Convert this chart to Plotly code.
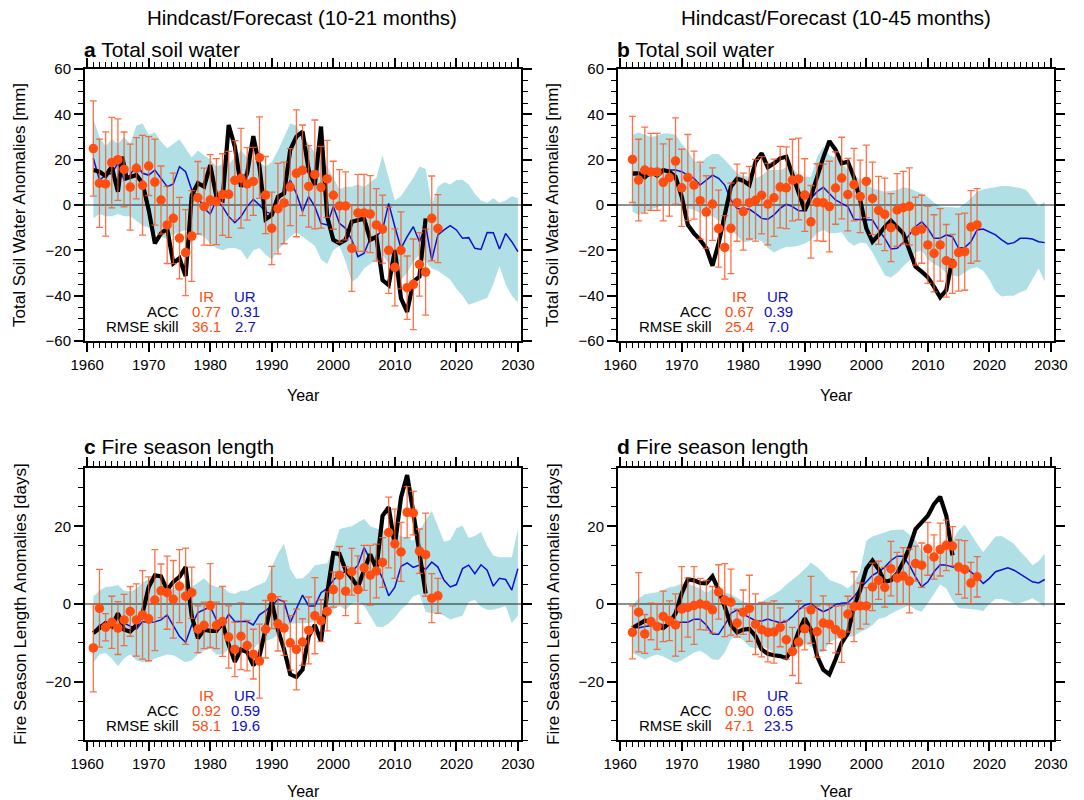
import plotly.graph_objects as go

# ---------------- DATA ----------------
# Panel a: Total soil water (10-21 months)
a_ir_years = list(range(1961, 2018))
a_ir = [24.9, 9.6, 9.3, 18.7, 20, 15.7, 7.9, 16.2, 8.7, 17.2,
        10.1, 2.2, -8.8, -5.9, -14.6, -21, -13.7, 3.2, -0.7, 2.2,
        1.5, 4.6, 4.7, 10.9, 11.8, 9.3, 10.4, 20.9, 4.4, -10.3,
        -1.6, 0.9, 7.9, 14, 15.3, 8.2, 13.5, 7.8, 11.5, 4.3,
        -0.4, -0.4, -19.1, -3.5, -3.5, -4, -8.8, -10.6, -20, -27.5,
        -20, -36.5, -35, -26.2, -29.6, -5.9, -10.4]
a_err = [21, 19.5, 23, 20, 18, 16.5, 19, 13.5, 22, 13,
         19, 15, 17, 20, 18, 19, 20, 16, 17, 20,
         19, 18, 19, 17.5, 22, 16, 15, 18, 17, 16,
         20, 18, 17, 28, 20, 18, 24, 18, 17, 15,
         16, 15, 19, 17, 17, 17, 16, 15, 19, 17,
         17, 14, 20, 14, 19, 18.7, 15]
a_obs_years = [1961, 1962, 1963, 1964, 1965, 1965.7, 1966.4, 1967, 1968, 1969,
               1970, 1971, 1972, 1973, 1974, 1975, 1976, 1977, 1978, 1979,
               1980, 1981, 1982, 1983, 1984, 1985, 1986, 1987, 1988, 1989,
               1990, 1991, 1992, 1993, 1994, 1995, 1996, 1997, 1998, 1999,
               2000, 2001, 2002, 2003, 2004, 2005, 2006, 2007, 2008, 2009,
               2010, 2011, 2012, 2013, 2014, 2015]
a_obs = [15.4, 14.7, 12.8, 16.9, 5.9, 21.3, 11.8, 12.5, 13.2, 9.6,
         -2.2, -16.9, -12.5, -10.3, -25.7, -23.5, -31.3, 4.4, 9.6, 8.1,
         17.6, 3.7, 2.2, 35.3, 25.7, 8.1, 14, 30.4, 16.9, -6.3,
         -4.4, 3.7, 5.1, 24.3, 30.1, 32.4, 15.4, 8.8, 34.6, -5.1,
         -15.4, -16.9, -15.4, -7.4, -6.6, -6, -15.4, -14, -33.1, -35.3,
         -19.9, -41.2, -47.1, -33.8, -31.6, -5.9]
a_ur_years = list(range(1961, 2031))
a_ur = [20.6, 11, 13.2, 14, 18.4, 11, 13.2, 18.1, 14, 13.2,
        15.4, 11.8, 8.1, 9.3, 16.9, 14.7, 6.6, 3.7, -1.5, -4,
        2.2, -0.7, -5.1, -7.8, -5.1, -0.7, 2.5, 0, -2.9, -4,
        2.2, 5.1, 11, 5.1, -2.9, 3.7, -0.7, -8.1, -8.8, -0.7,
        -8.1, -10.3, -15.4, -22.8, -21.3, -14.7, -13.7, -11, 0.7, -9.6,
        -19.1, -14, -9.6, -16.2, -9, -24.3, -13.2, -11, -9.1, -11,
        -14.7, -14.4, -19.1, -19.6, -12.1, -12.2, -19.4, -12.6, -16.2, -20.6]
a_hi = [38, 30, 26, 29, 27, 30, 27, 35, 36, 31,
        32, 28, 25, 27, 29, 25, 21, 24, 22, 20,
        17, 18, 18, 21, 24, 21, 20, 19, 17, 19,
        24, 30, 36, 35, 30, 27, 23, 20, 17, 12,
        7, 8, 8, 9, 8, 10, 12, 22, 12, 2,
        4, 8, 12, 17, 16, 0, 8, 10, 9, 11,
        11, 9, 5, 2, 1, 3, 1, 2, 4, 3]
a_lo = [-6, -4, -5, -5, -4, -5, -5, -7, -9, -10,
        -12, -14, -15, -13, -12, -11, -12, -13, -14, -17,
        -19, -20, -19, -19, -20, -24, -20, -19, -22, -24,
        -20, -17, -14, -12, -14, -16, -18, -24, -26, -20,
        -18, -25, -34, -32, -28, -26, -24, -22, -26, -31,
        -33, -30, -25, -22, -25, -28, -29, -31, -33, -37,
        -40, -44, -43, -42, -41, -35, -27, -35, -40, -43]

# Panel b: Total soil water (10-45 months)
b_ir_years = list(range(1962, 2019))
b_ir = [20.1, 11, 15.4, 14.6, 14.6, 10, 12.1, 19.4, 7.6, 12.1,
        8.8, 1.9, -3.1, 0.4, -10.4, -18.7, -10.3, 1, -2.9, 1,
        2.1, 4.3, 0.4, 3.2, 7.9, 7.6, 11, 11.5, 4.4, -7.4,
        1.2, 1, -0.7, 7.5, 11.9, 4.6, 9, 3.8, 10.4, 2.9,
        -2.4, -4.1, -10, -2.2, -1.2, -0.6, -11.5, -10.7, -17.6, -21.3,
        -17.6, -24.6, -26, -21, -20.6, -9.7, -8.8]
b_err = [19, 18, 19, 17, 17, 17, 17, 19, 17, 19,
         15, 17, 16, 16, 17, 14, 20, 17, 17, 16,
         18, 17, 18, 17, 18, 18, 18, 18, 16, 16,
         17, 17, 20, 16, 18, 16, 16, 16, 16, 16,
         15, 16, 15, 16, 16, 17, 15, 15, 17, 17,
         16, 16, 13, 17, 17, 16, 16]
b_obs_years = list(range(1962, 2015))
b_obs = [14, 14, 12.2, 14.7, 13, 15.4, 14.7, 12.5, 3.7, -8.8,
         -12.5, -15.4, -19.1, -26.8, -16.9, -5.1, 8.1, 11.6, 10.7, 8.8,
         19.1, 22.8, 16.6, 18.4, 20.6, 21.3, 13.2, 4.4, -2.5, 3.7,
         12.5, 20.9, 28.2, 24.3, 18.4, 19.1, 12.2, 2.2, -10.3, -16.2,
         -13.2, -9.6, -6.9, -9.6, -12.5, -19.9, -27.2, -29.4, -31.9, -36,
         -40.7, -37.5, -23.8]
b_ur_years = list(range(1962, 2030))
b_ur = [13.2, 13.2, 12.5, 13.2, 14, 14.7, 15.4, 15.4, 14.7, 13.2,
        11.8, 8.8, 11, 13.2, 11.8, 8.8, 2.2, -1.5, -1.6, -1.9,
        -3.7, -5.9, -6.3, -4.4, -1.5, 0.4, -0.7, -2.5, -2.5, 2.9,
        5.9, 7.8, 5.1, 2.2, 0.7, -0.7, -6.3, -6.3, -6.3, -6.6,
        -11, -14.7, -19.4, -19.1, -16.6, -13.2, -9.6, -7.4, -10.3, -14.7,
        -14.7, -13.2, -14, -19.1, -18.7, -16.2, -11, -10.6, -11.8, -13.2,
        -15.4, -17.2, -16.6, -14.7, -14.7, -15, -16.2, -16.6]
b_hi = [31, 32, 31, 30, 30.5, 31.5, 31.5, 31, 27, 24,
        19.5, 18, 21, 22.5, 22.5, 20, 17, 14, 12.8, 12.5,
        11.8, 13, 15.4, 15.4, 15.4, 16.5, 16.5, 13, 12.5, 12.5,
        21, 25.7, 22, 21, 18.4, 15.4, 13, 11.5, 9, 7.4,
        6.5, 5.9, 6.3, 6.6, 7.8, 7.4, 6.2, 5.1, 3.5, 1,
        -0.7, -0.7, -1, -1.2, 0.5, 3, 5.9, 7, 7.4, 7.8,
        8.4, 8.4, 8.1, 7.5, 6.6, 3, -0.7, 1.5]
b_lo = [-3, -4.4, -3, -2, -1, 0, 0.5, 0.5, -0.5, -1.5,
        -2.2, -3.5, -4.4, -5, -7, -8.5, -11, -13.5, -16.5, -16,
        -15, -16, -19, -21, -19.5, -18.4, -18.4, -18, -17, -15.5,
        -12.5, -11, -12.5, -12.5, -12, -16, -18, -16.5, -17, -21,
        -26, -31, -32, -30, -27, -24.5, -21, -20, -24, -26,
        -27.5, -30, -31, -31.6, -30, -28, -27.5, -29, -33, -38,
        -40.4, -40, -40, -38.5, -37.5, -33, -28, -33.8]

# Panel c: Fire season length (10-21 months)
c_ir_years = list(range(1961, 2018))
c_ir = [-11.3, -1.1, -6, -4.7, -6.2, -4.1, -1.9, -4.1, -2.8, -3.8,
        1, 3.4, 2.9, 1.2, 4.6, 2, 2.9, -6.5, -5.5, -0.4,
        -5.5, -4.5, -8.5, -11.7, -8.3, -10.7, -12.9, -14.7, -6.5, 1.7,
        -5.1, -6.2, -10, -11.7, -9.8, -6.8, -3, -4.3, -1.9, 3.7,
        7.4, 3.3, 8.3, 3.7, 9.3, 7.4, 8.5, 10.7, 18.4, 15.5,
        13.4, 23.6, 23.4, 13.6, 12.7, 1.5, 2.1]
c_err = [11.3, 10, 3.5, 6.7, 6.8, 6.6, 6.4, 9.3, 11.4, 10.8,
         13, 6.9, 9.4, 10, 9.4, 12.4, 6.6, 6, 6, 10.8,
         6, 9, 8, 7, 8.6, 6.5, 6.4, 9.5, 7.4, 8,
         7, 7, 7, 10.4, 6, 8.6, 9.8, 5.4, 5, 4.5,
         7.4, 6.3, 6, 8.7, 5.8, 7.7, 6.9, 6.4, 9.1, 8.9,
         7.6, 6.6, 5.6, 5.7, 10.7, 6.3, 4.5]
c_obs_years = list(range(1961, 2016))
c_obs = [-7.5, -6.2, -4.9, -5.8, -2.4, -6.6, -7.1, -5.4, -2.4, 4.4,
         7.4, 7.1, 3.6, 5.7, 7, 9.5, -3.2, -8.8, -6.6, -6.9,
         -6.9, -4.9, -10.5, -14.9, -11.7, -12.4, -15.8, -13.4, -5.8, 0.6,
         -6.6, -11.7, -18.1, -18.8, -16.9, -8.3, -5.4, -9.6, 2.7, 13.1,
         12.9, 8.7, 6.6, 4.4, 8.7, 12.8, 9.1, 22.7, 24.9, 15.1,
         27.4, 33.2, 23.6, 13.8, 2.7]
c_ur_years = list(range(1961, 2031))
c_ur = [-7.3, -5.4, -5.8, -5.8, -5.8, -4.9, -5.6, -6.5, -4.5, -4.8,
        -4.6, -4.1, -2.8, -5.4, -8.3, -9.9, -5.4, -2.2, -1.5, -0.7,
        -4.1, -5.8, -2.6, -4.5, -4.5, -4.5, -5.4, -2.8, -1.7, -0.5,
        1.2, 0.6, -4.8, -1.1, 2.3, -0.5, -0.5, 2.9, 4, 6.1,
        7.8, 8.3, 8.3, 10, 14.5, 11.4, 10, 6.6, 2.1, 4.3,
        9.7, 10.6, 9.4, 10, 8.9, 10.8, 9.5, 6.1, 4.4, 5,
        9.1, 10, 7.8, 10.1, 8.7, 4.6, 6.6, 6.3, 3.6, 9.1]
c_hi = [1.9, 3.5, 4.4, 4.5, 4.9, 3.5, 3.2, 4, 5.5, 6.5,
        7.4, 6, 4, 4, 4.4, 4.6, 4.4, 5.5, 6.6, 5,
        4.4, 4.4, 3, 2.6, 3.4, 3.4, 4.4, 5, 5.7, 9.5,
        13, 15.5, 9, 6.5, 6.6, 8, 10, 10.2, 10.5, 14,
        19.3, 19.7, 20, 21, 21.9, 20, 19.5, 18.9, 18.7, 18,
        17.5, 17, 16.3, 19, 21.5, 24, 20, 16, 16.5, 19.5,
        20.2, 17, 17.5, 18.5, 15, 12.5, 12, 12, 12, 19.3]
c_lo = [-15.1, -13, -12.6, -14, -16, -14, -13, -14.5, -15, -15,
        -14, -13.5, -13, -13.2, -14, -15, -14.5, -13, -12, -11.5,
        -13, -13, -11.7, -12, -12.5, -12, -11.5, -10, -9.5, -9,
        -8, -7, -5, -5, -5, -4.9, -4.5, -3, -2.8, -1.5,
        -0.5, -1.5, 0.2, 0.5, -0.5, -3, -5.8, -6, -5, -3.5,
        -1.5, 0, 2, 2.5, -2, -2.4, -2.4, -3, -4, -3.5,
        -3, 0.5, 1, -0.7, -1.5, -1.5, -1, -0.5, -4.9, -3]

# Panel d: Fire season length (10-45 months)
d_ir_years = list(range(1962, 2019))
d_ir = [-7.3, -2.1, -7.7, -4.5, -5.8, -3.2, -4.3, -5.4, -1.3, -0.9,
        -0.4, 0, -0.3, -1.5, 3.1, 1, 0.5, -4.9, -2.1, -1.1,
        -5.2, -6.6, -7.3, -7.2, -6, -9.2, -12.2, -9.8, -6.4, -1.5,
        -7.1, -4.9, -5.2, -6.6, -7.7, -2.6, -0.7, -0.5, -0.5, 4.4,
        6.1, 4.3, 9.1, 6.7, 7.2, 5.9, 10.4, 10, 14.2, 12.1,
        14, 15.1, 14.9, 9.5, 8.9, 5.4, 7]
d_err = [6.8, 10.2, 5, 4.7, 5.9, 6.5, 5.1, 8, 10.9, 7.6,
         10, 6.6, 6.4, 6, 7, 9.4, 8.5, 3.6, 5.7, 8.5,
         7.8, 7, 7.6, 8, 5, 5, 6.2, 10.6, 5.4, 8.6,
         6.6, 7, 5, 6, 7.3, 4.6, 9, 5.9, 4.7, 6.1,
         4.9, 5.1, 7, 6.6, 7.3, 8.2, 4.5, 5.7, 6.8, 5.7,
         6.8, 6.5, 5, 7, 7.4, 5.3, 5.2]
d_obs_years = list(range(1962, 2015))
d_obs = [-6.2, -5.4, -4.3, -4.5, -5.6, -6.2, -4.9, -2.4, 2.7, 6.3,
         6.1, 5.4, 5.3, 7.1, 3.6, -0.7, -5.4, -7.3, -6.6, -6.4,
         -8.3, -11.7, -12.8, -13.2, -13.4, -13.9, -11.5, -7.1, -3.7, -6.6,
         -13.4, -16.9, -18.1, -14.3, -10, -7.5, -0.7, 3.6, 9.1, 11.2,
         8.9, 5.7, 6.1, 7.8, 10.8, 14.5, 19.3, 21, 22.7, 25.7,
         27.6, 22.7, 12.5]
d_ur_years = list(range(1962, 2030))
d_ur = [-5.8, -6.2, -5.8, -5.6, -4.9, -5.4, -5.4, -4.9, -4.7, -4.7,
        -3.9, -3.9, -5.4, -7.7, -7.8, -5.4, -2.4, -1.5, -2.6, -3.5,
        -4.3, -4.4, -3.9, -4.4, -4.8, -4.5, -3.2, -1.5, -0.3, 0.2,
        -1.1, -2, -1.3, -0.1, 0.2, 0.3, 1.9, 4, 5.7, 7.4,
        8.3, 9.5, 11.2, 12.3, 12.3, 10, 7, 4.4, 5.7, 8.3,
        10.1, 10, 9.5, 9.6, 9.5, 8.3, 7, 5.3, 6.6, 8.3,
        8.9, 9.3, 8.7, 7.7, 6.6, 5.7, 5.4, 6.3]
d_hi = [-0.3, 1.5, 2.5, 2.7, 3, 3.6, 4.3, 4.6, 5.3, 5.3,
        4.6, 4, 2.9, 3.8, 3.4, 2.9, 2.5, 1.6, 0.6, 0.2,
        0.2, 0.6, 1.5, 2.5, 3.5, 5, 6.2, 7.5, 9, 10.6,
        9.5, 8, 6.2, 5.5, 5, 4, 5.5, 8.5, 16.3, 17.4,
        17.9, 18.5, 19, 19.1, 19.2, 17.8, 16.5, 13.8, 12.5, 11.2,
        12.5, 14.5, 16.3, 19, 20.4, 18, 15.5, 13.4, 15.5, 17.4,
        17.5, 16.5, 15.5, 13.5, 11.9, 10, 11, 12.9]
d_lo = [-12.6, -13.5, -14.3, -13.5, -13, -13.5, -14.2, -15.1, -14.5, -13.5,
        -12.5, -12, -13, -14.3, -14.4, -12.5, -9, -8.3, -9.3, -11,
        -11.5, -11, -11.5, -12.6, -13, -13, -12.7, -11.5, -10.2, -11,
        -12.3, -12.5, -10, -9, -8.7, -8.5, -8.3, -7.2, -6.5, -5.5,
        -3.8, -3.5, -2.5, -1.7, -0.9, -0.3, -1.5, -2, 0.2, 2.5,
        5, 4, 1, -1, -1.2, -1.3, -1.5, -1.8, 0, 1.3,
        1.2, 0.8, 0.1, 0.3, 0.8, 1.5, 0.5, -0.8]

# Skill scores (IR, UR)
a_acc = ("0.77", "0.31"); a_rmse = ("36.1", "2.7")
b_acc = ("0.67", "0.39"); b_rmse = ("25.4", "7.0")
c_acc = ("0.92", "0.59"); c_rmse = ("58.1", "19.6")
d_acc = ("0.90", "0.65"); d_rmse = ("47.1", "23.5")

col_titles = ["Hindcast/Forecast (10-21 months)", "Hindcast/Forecast (10-45 months)"]
panel_titles = [("a", "Total soil water"), ("b", "Total soil water"),
                ("c", "Fire season length"), ("d", "Fire season length")]
y_titles = ["Total Soil Water Anomalies [mm]", "Total Soil Water Anomalies [mm]",
            "Fire Season Length Anomalies [days]", "Fire Season Length Anomalies [days]"]

# ---------------- STYLE ----------------
W, H = 1084, 800
FONT = "Liberation Sans, Arial, Helvetica, sans-serif"
BAND = "#B0E0E6"
BLUE = "#1010CC"
ORANGE = "#FF4E10"
ERRC = "rgba(255,82,30,0.82)"
X_RANGE = [1959.65, 2030.5]

# pixel boxes: (left, right, top, bottom)
boxes = [(85, 521, 69, 341), (618, 1054, 69, 341),
         (85, 521, 468, 740), (618, 1054, 468, 740)]
y_ranges = [[-60, 60], [-60, 60], [-35, 35], [-35, 35]]
ytitle_x = [20, 553, 20, 553]
label_y = [49.5, 49.5, 446, 446]  # panel label centre (px)
year_y = [395, 395, 791, 791]     # x-title centre (px)


def px(x):
    return x / W


def py(y):
    return 1 - y / H


fig = go.Figure()

panels = [
    (a_ur_years, a_hi, a_lo, a_ur, a_obs_years, a_obs, a_ir_years, a_ir, a_err, a_acc, a_rmse),
    (b_ur_years, b_hi, b_lo, b_ur, b_obs_years, b_obs, b_ir_years, b_ir, b_err, b_acc, b_rmse),
    (c_ur_years, c_hi, c_lo, c_ur, c_obs_years, c_obs, c_ir_years, c_ir, c_err, c_acc, c_rmse),
    (d_ur_years, d_hi, d_lo, d_ur, d_obs_years, d_obs, d_ir_years, d_ir, d_err, d_acc, d_rmse),
]

annotations = []
for i, (uy, hi, lo, ur, oy, obs, iy, ir, err, acc, rmse) in enumerate(panels):
    n = i + 1
    xa = "x" if n == 1 else f"x{n}"
    ya = "y" if n == 1 else f"y{n}"
    # UR spread band
    fig.add_trace(go.Scatter(x=list(uy) + list(uy)[::-1], y=list(hi) + list(lo)[::-1],
                             fill="toself", fillcolor=BAND, line=dict(width=0),
                             mode="lines", hoverinfo="skip", xaxis=xa, yaxis=ya))
    # zero reference line
    fig.add_trace(go.Scatter(x=X_RANGE, y=[0, 0], mode="lines",
                             line=dict(color="#202020", width=1.2), xaxis=xa, yaxis=ya))
    # UR mean
    fig.add_trace(go.Scatter(x=uy, y=ur, mode="lines", line=dict(color=BLUE, width=1.5),
                             xaxis=xa, yaxis=ya))
    # observations
    fig.add_trace(go.Scatter(x=oy, y=obs, mode="lines", line=dict(color="black", width=4.2),
                             xaxis=xa, yaxis=ya))
    # IR with error bars
    fig.add_trace(go.Scatter(x=iy, y=ir, mode="markers",
                             marker=dict(color=ORANGE, size=9.5),
                             error_y=dict(type="data", array=err, visible=True,
                                          color=ERRC, thickness=1.3, width=3.5),
                             xaxis=xa, yaxis=ya))

    l, r, t, b = boxes[i]
    axis_common = dict(showline=True, linecolor="black", linewidth=2, mirror="allticks",
                       ticks="outside", tickcolor="black", tickwidth=1.5, ticklen=9,
                       showgrid=False, zeroline=False, automargin=False,
                       tickfont=dict(family=FONT, size=15, color="black"))
    fig.layout[f"xaxis{'' if n == 1 else n}"] = dict(
        axis_common, domain=[px(l), px(r)], range=X_RANGE, anchor=ya,
        tick0=1960, dtick=10,
        minor=dict(dtick=1, ticks="outside", ticklen=5, tickwidth=1.2, tickcolor="black"))
    yr = y_ranges[i]
    fig.layout[f"yaxis{'' if n == 1 else n}"] = dict(
        axis_common, domain=[py(b), py(t)], range=yr, anchor=xa,
        tick0=0, dtick=20,
        minor=dict(dtick=5, ticks="outside", ticklen=5, tickwidth=1.2, tickcolor="black"))

    # panel label
    letter, ptitle = panel_titles[i]
    annotations.append(dict(x=px(l - 3), y=py(label_y[i]), xref="paper", yref="paper",
                            xanchor="left", yanchor="middle", showarrow=False,
                            text=f"<b>{letter}</b> {ptitle}",
                            font=dict(family=FONT, size=21, color="black")))
    # y title
    annotations.append(dict(x=px(ytitle_x[i]), y=py((t + b) / 2), xref="paper", yref="paper",
                            xanchor="center", yanchor="middle", showarrow=False,
                            textangle=-90, text=y_titles[i],
                            font=dict(family=FONT, size=17, color="black")))
    # x title
    annotations.append(dict(x=px((l + r) / 2), y=py(year_y[i]), xref="paper", yref="paper",
                            xanchor="center", yanchor="middle", showarrow=False,
                            text="Year", font=dict(family=FONT, size=16, color="black")))
    # skill text
    dx = l - 85
    dy = b - 341

    def add(txt, x, y, color, anchor="center"):
        annotations.append(dict(x=px(x + dx), y=py(y + dy), xref="paper", yref="paper",
                                xanchor=anchor, yanchor="middle", showarrow=False,
                                text=txt, font=dict(family=FONT, size=15, color=color)))
    add("IR", 206, 296.5, ORANGE)
    add("UR", 244.5, 296.5, BLUE)
    add("ACC", 181, 311.5, "black", "right")
    add(acc[0], 206.5, 311.5, ORANGE)
    add(acc[1], 245, 311.5, BLUE)
    add("RMSE skill", 181, 326.5, "black", "right")
    add(rmse[0], 206.5, 326.5, ORANGE)
    add(rmse[1], 245.5, 326.5, BLUE)

annotations.append(dict(x=px(302), y=py(18), xref="paper", yref="paper", xanchor="center",
                        yanchor="middle", showarrow=False, text=col_titles[0],
                        font=dict(family=FONT, size=20.5, color="black")))
annotations.append(dict(x=px(836), y=py(18), xref="paper", yref="paper", xanchor="center",
                        yanchor="middle", showarrow=False, text=col_titles[1],
                        font=dict(family=FONT, size=20.5, color="black")))

fig.update_layout(width=W, height=H, margin=dict(l=0, r=0, t=0, b=0, pad=0),
                  paper_bgcolor="white", plot_bgcolor="white", showlegend=False,
                  annotations=annotations, font=dict(family=FONT))

fig.write_html("out.html")
